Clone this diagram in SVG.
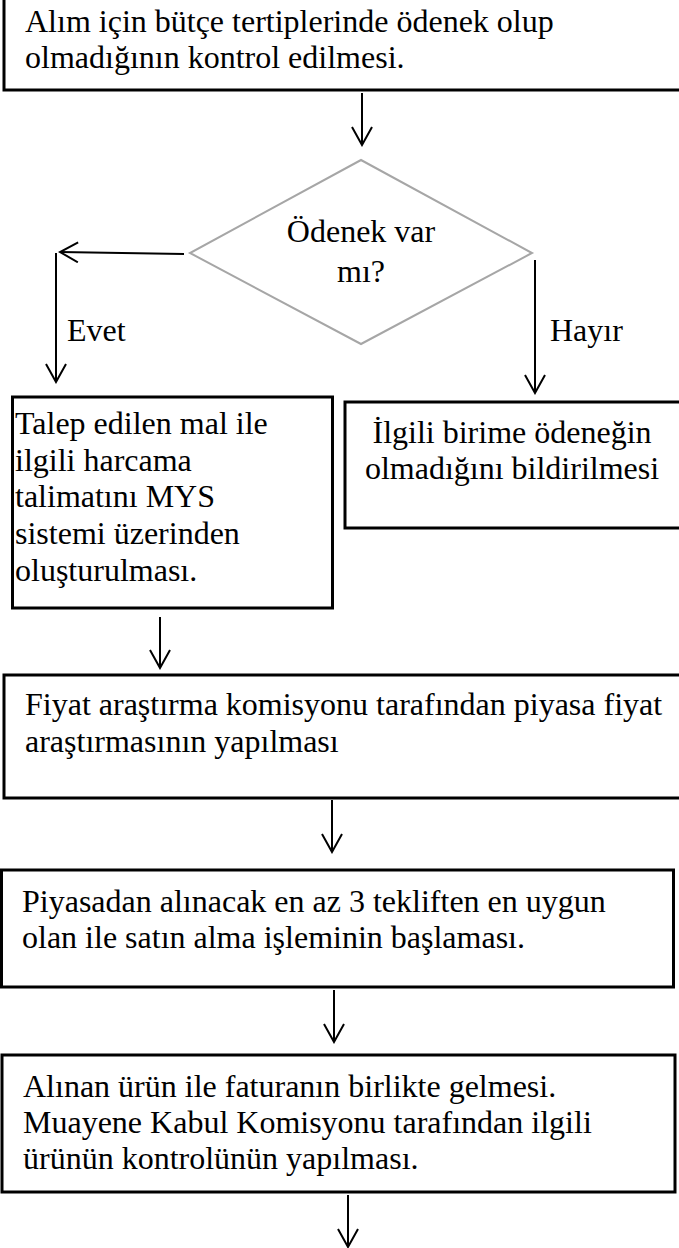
<svg xmlns="http://www.w3.org/2000/svg" width="679" height="1248" viewBox="0 0 679 1248">
<defs>
<style>
.box{fill:#fff;stroke:#000;stroke-width:3}
.dia{fill:#fff;stroke:#a6a6a6;stroke-width:2}
.c{text-anchor:middle}
.ln{stroke:#000;stroke-width:2;fill:none;marker-end:url(#ah)}
text{font-family:"Liberation Serif","Times New Roman",Times,"DejaVu Serif",serif;font-size:32px;fill:#000}
</style>
<marker id="ah" markerUnits="userSpaceOnUse" markerWidth="22" markerHeight="22" viewBox="0 0 22 22" refX="20" refY="11" orient="auto">
<path d="M2,1 L20,11 L2,21" fill="none" stroke="#000" stroke-width="2"/>
</marker>
</defs>
<rect width="679" height="1248" fill="#fff"/>

<g id="n1">
<rect class="box" x="4" y="-5" width="700" height="95"/>
<text x="25" y="32">Alım için bütçe tertiplerinde ödenek olup</text>
<text x="25" y="68">olmadığının kontrol edilmesi.</text>
</g>

<g id="n2">
<polygon class="dia" points="361,160 532,253 361,344 190,253"/>
<text class="c" x="361" y="242">Ödenek var</text>
<text class="c" x="361" y="282">mı?</text>
</g>

<g id="n3">
<rect class="box" x="12.5" y="397" width="320" height="211"/>
<text x="15" y="434">Talep edilen mal ile</text>
<text x="15" y="471">ilgili harcama</text>
<text x="15" y="507">talimatını MYS</text>
<text x="15" y="544">sistemi üzerinden</text>
<text x="15" y="581">oluşturulması.</text>
</g>

<g id="n4">
<rect class="box" x="345" y="402" width="360" height="126"/>
<text class="c" x="512" y="443">İlgili birime ödeneğin</text>
<text class="c" x="512" y="479">olmadığını bildirilmesi</text>
</g>

<g id="n5">
<rect class="box" x="4" y="675" width="700" height="123"/>
<text x="25" y="715">Fiyat araştırma komisyonu tarafından piyasa fiyat</text>
<text x="25" y="752">araştırmasının yapılması</text>
</g>

<g id="n6">
<rect class="box" x="1.5" y="870" width="672" height="117"/>
<text x="22" y="912">Piyasadan alınacak en az 3 tekliften en uygun</text>
<text x="22" y="948">olan ile satın alma işleminin başlaması.</text>
</g>

<g id="n7">
<rect class="box" x="2" y="1055" width="673" height="137"/>
<text x="23" y="1097">Alınan ürün ile faturanın birlikte gelmesi.</text>
<text x="23" y="1133">Muayene Kabul Komisyonu tarafından ilgili</text>
<text x="23" y="1169">ürünün kontrolünün yapılması.</text>
</g>

<g id="connectors">
<line class="ln" x1="362" y1="93" x2="362" y2="145"/>
<line class="ln" x1="184" y1="254" x2="60" y2="252"/>
<line class="ln" x1="56" y1="253" x2="56" y2="382"/>
<line class="ln" x1="535" y1="260" x2="535" y2="393"/>
<line class="ln" x1="160" y1="617" x2="160" y2="668"/>
<line class="ln" x1="332" y1="800" x2="332" y2="852"/>
<line class="ln" x1="334" y1="990" x2="334" y2="1042"/>
<line class="ln" x1="348" y1="1195" x2="348" y2="1247"/>
<text x="67" y="341">Evet</text>
<text x="550" y="341">Hayır</text>
</g>
</svg>
